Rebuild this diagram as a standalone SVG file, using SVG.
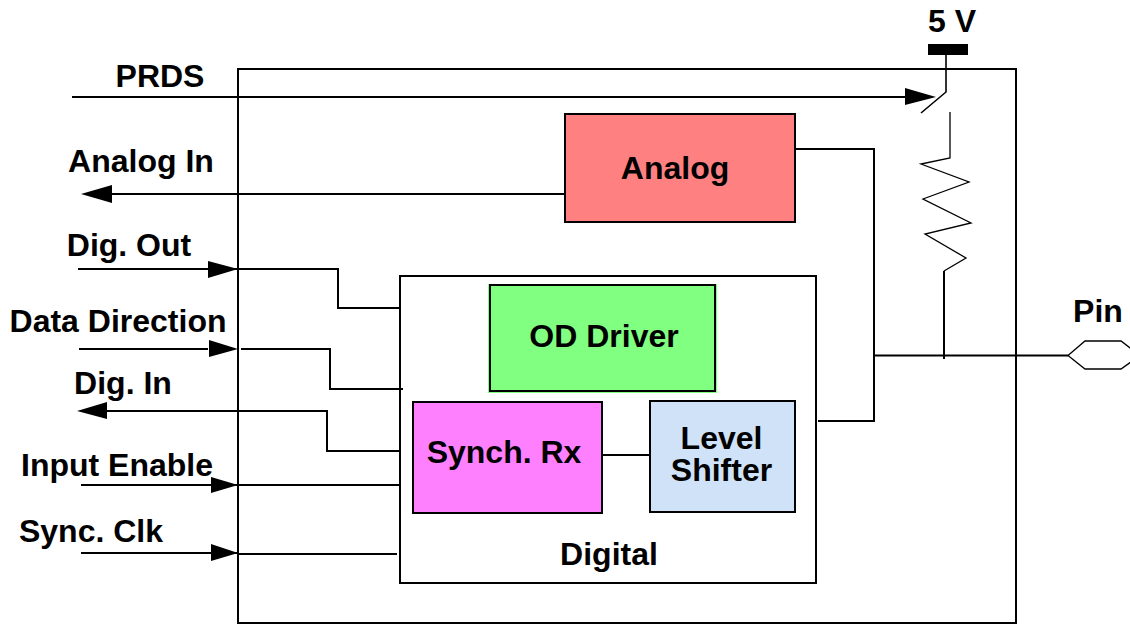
<svg xmlns="http://www.w3.org/2000/svg" width="1130" height="625" viewBox="0 0 1130 625">
<style>
.w{fill:none;stroke:#000;stroke-width:2}
.t{fill:none;stroke:#000;stroke-width:1.3}
.b{fill:none;stroke:#000;stroke-width:2}
.a{fill:#000;stroke:none}
text{font-family:"Liberation Sans",Arial,sans-serif;font-weight:bold;font-size:32px;fill:#000;text-anchor:middle}
</style>
<rect width="1130" height="625" fill="#fff"/>
<g id="chip"><rect class="w" x="238" y="69" width="778" height="554"/></g>
<g id="digital"><rect class="w" x="400" y="276" width="416" height="307"/><text x="609" y="565">Digital</text></g>
<g id="analog"><rect x="565" y="114" width="230" height="109" fill="#ff8080"/><rect class="b" x="565" y="114" width="230" height="108"/><text x="675" y="179">Analog</text></g>
<g id="oddriver"><rect x="488" y="284" width="229" height="109" fill="#80ff80"/><rect class="b" x="490" y="285" width="225" height="106"/><text x="604" y="347">OD Driver</text></g>
<g id="synchrx"><rect x="413" y="402" width="189" height="111" fill="#ff80ff"/><rect class="b" x="413" y="402" width="189" height="111"/><text x="504" y="463">Synch. Rx</text></g>
<g id="levelshifter"><rect x="650" y="401" width="145" height="111" fill="#cfe2f7"/><rect class="b" x="650" y="401" width="145" height="111"/><text x="721.5" y="449"><tspan x="721.5" y="449">Level</tspan><tspan x="721.5" y="481">Shifter</tspan></text></g>
<g id="connectors">
<path class="w" d="M72 97H906"/>
<path class="w" d="M565 194H110"/>
<path class="w" d="M795 149H874V421H818"/>
<path class="w" d="M78 269H338V308H400"/>
<path class="w" d="M79 349H208M241 349H330V389H403"/>
<path class="w" d="M400 451H327V411H107"/>
<path class="w" d="M81 485H400"/>
<path class="w" d="M81 553L238 553V554H397"/>
<path class="w" d="M602 455H650"/>
<path class="w" d="M874 355.5H1068"/>
<path class="t" d="M946 55V92L921 113" style="stroke-width:1.6"/>
<path class="t" d="M950 112V158L921 164L969 182L923 199L971 223L925 234L966 258L944 271"/>
<path class="w" d="M944 271V359"/>
<path class="a" d="M905 88L936 97L905 105Z"/>
<path class="a" d="M112 185L81 194L112 203Z"/>
<path class="a" d="M208 261L238 269L208 278Z"/>
<path class="a" d="M209 340L238 349L209 357Z"/>
<path class="a" d="M107 402L77 411L107 419Z"/>
<path class="a" d="M211 477L238 485L211 493Z"/>
<path class="a" d="M211 544L238 553L211 561Z"/>
</g>
<g id="vcc"><rect x="928" y="44" width="40" height="11" fill="#000"/><text x="952" y="32">5 V</text></g>
<g id="pin"><path class="t" d="M1068 355.5L1085 341H1121L1140 355.5L1121 369H1085Z" fill="#fff"/><text x="1098" y="322">Pin</text></g>
<g id="labels">
<text x="160" y="87">PRDS</text>
<text x="141" y="172">Analog In</text>
<text x="129" y="256">Dig. Out</text>
<text x="118" y="332">Data Direction</text>
<text x="123" y="394">Dig. In</text>
<text x="117" y="476">Input Enable</text>
<text x="91" y="542">Sync. Clk</text>
</g>
</svg>
